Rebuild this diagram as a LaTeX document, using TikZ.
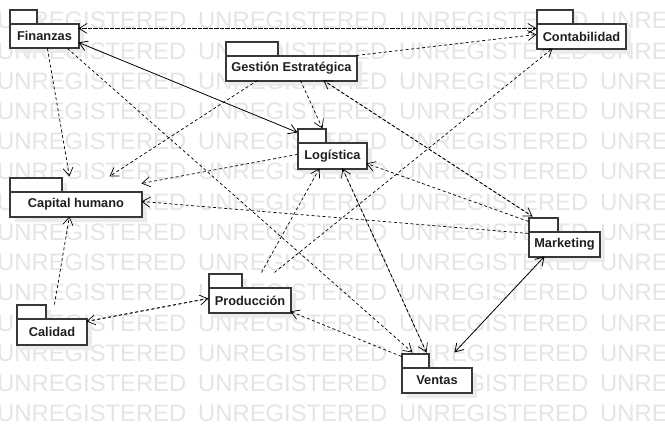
\documentclass[tikz,border=0pt]{standalone}
\usepackage{fontspec}
\setmainfont{Liberation Sans}
\usetikzlibrary{arrows.meta,calc}
\tikzset{
  pkg/.style={draw=black!78, line width=1.1pt, fill=white, inner sep=0pt,
    font=\bfseries\fontsize{12.8}{15}\selectfont, text=black!88},
  tabbox/.style={draw=black!78, line width=1.1pt, fill=white},
  shadowbox/.style={fill=black!8, draw=none},
  wm/.style={text=black!10, inner sep=0pt, font=\fontsize{23.8}{26}\selectfont},
  tip/.tip={Straight Barb[length=8pt,width=10pt]},
  dep/.style={draw=black, line width=0.7pt, dash pattern=on 3pt off 2.5pt, -tip},
  assoc/.style={draw=black, line width=0.8pt, tip-tip},
}
% #1 name, #2 cx, #3 cy, #4 w, #5 h, #6 tab width, #7 label
\newcommand\umlpkg[7]{%
  \fill[shadowbox] ({#2-#4/2+5},{#3-#5/2-14+5}) rectangle ({#2-#4/2+#6+5},{#3-#5/2+5});
  \fill[shadowbox] ({#2-#4/2+5},{#3-#5/2+5}) rectangle ({#2+#4/2+5},{#3+#5/2+5});
  \draw[tabbox] ({#2-#4/2},{#3-#5/2-14}) rectangle ({#2-#4/2+#6},{#3-#5/2});
  \node[pkg, minimum width=#4pt, minimum height=#5pt] (#1) at (#2,#3) {#7};
}
\begin{document}
\begin{tikzpicture}[x=1pt,y=-1pt]
\useasboundingbox (0,0) rectangle (665,433);
\fill[white] (0,0) rectangle (665,433);
% watermark
\foreach \wr in {0,...,13}{
  \foreach \wc in {0,...,3}{
    \node[wm, anchor=base west] (wm-\wr-\wc) at ({-3+201*\wc},{29+30.2*\wr}) {UNREGISTERED};
  }
}
% packages
\umlpkg{fin}{44.5}{36}{69}{24}{27}{Finanzas}
\umlpkg{ges}{291.5}{68.5}{131}{25}{52}{Gestión Estratégica}
\umlpkg{log}{332.5}{156}{69}{26}{28}{Logística}
\umlpkg{con}{581.5}{36.5}{89}{25}{36}{Contabilidad}
\umlpkg{cap}{76}{204.5}{132}{25}{52}{Capital humano}
\umlpkg{cal}{52}{332}{70}{26}{29}{Calidad}
\umlpkg{pro}{250}{300.5}{82}{25}{33}{Producción}
\umlpkg{mar}{564.5}{244.5}{71}{25}{29}{Marketing}
\umlpkg{ven}{437}{380.5}{70}{25}{27}{Ventas}
% connectors
\draw[dep] ($(fin.north west)+(69,5)$) -- ($(con.north west)+(0,5)$);
\draw[dep] ($(con.north west)+(0,5)$) -- ($(fin.north west)+(69,5)$);
\draw[dep] ($(ges.north west)+(131,0)$) -- ($(con.north west)+(0,11)$);
\draw[assoc] ($(fin.north west)+(69,19)$) -- ($(log.north west)+(0,-10)$);
\draw[dep] ($(fin.north west)+(38,25)$) -- ($(cap.north west)+(60,-15)$);
\draw[dep] ($(fin.north west)+(58,25)$) -- ($(ven.north west)+(11,-15)$);
\draw[dep] ($(log.north west)+(45,26)$) -- ($(ven.north west)+(25,-15)$);
\draw[dep] ($(ven.north west)+(25,-15)$) -- ($(log.north west)+(45,26)$);
\draw[dep] ($(ges.north west)+(75,25)$) -- ($(log.north west)+(25,-14)$);
\draw[dep] ($(ges.north west)+(32,25)$) -- ($(cap.north west)+(100,-15)$);
\draw[dep] ($(log.north west)+(0,12)$) -- ($(cap.north west)+(132,-8)$);
\draw[dep] ($(mar.north west)+(0,2)$) -- ($(cap.north west)+(132,10)$);
\draw[dep] ($(mar.north west)+(0,-10)$) -- ($(log.north west)+(69,21)$);
\draw[dep] ($(pro.north west)+(53,-15)$) -- ($(log.north west)+(22,26)$);
\draw[dep] ($(pro.north west)+(66,-15)$) -- ($(con.north west)+(16,25)$);
\draw[dep] ($(cal.north west)+(38,-14)$) -- ($(cap.north west)+(60,25)$);
\draw[dep] ($(cal.north west)+(70,3)$) -- ($(pro.north west)+(0,11)$);
\draw[dep] ($(pro.north west)+(0,11)$) -- ($(cal.north west)+(70,3)$);
\draw[dep] ($(ven.north west)+(0,-11)$) -- ($(pro.north west)+(82,24)$);
\draw[assoc] ($(mar.north west)+(16,25)$) -- ($(ven.north west)+(53,-15)$);
\draw[dep] ($(ges.north west)+(98,25)$) -- ($(mar.north west)+(4,-15)$);
\draw[dep] ($(mar.north west)+(4,-15)$) -- ($(ges.north west)+(98,25)$);
\end{tikzpicture}
\end{document}
